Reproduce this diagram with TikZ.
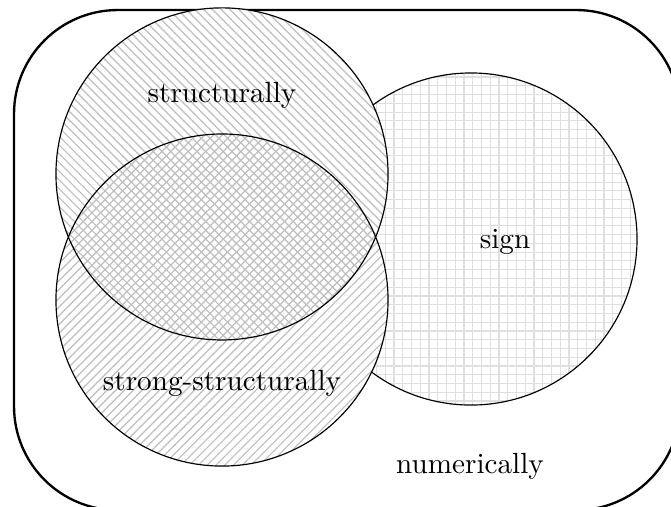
\documentclass[tikz,border=0pt]{standalone}
\usetikzlibrary{patterns}

\begin{document}
\begin{tikzpicture}

    % 1. Mittelpunkte der Kreise (Radius jeweils 2cm)
    \coordinate (S) at (2.674,4.0);
    \coordinate (T) at (2.674,2.481);
    \coordinate (G) at (5.673,3.216);

    % Rahmen des Bildes
    \useasboundingbox (0,0) rectangle (8.082,6.095);

    % 2. Menge aller Systeme (abgerundetes Rechteck)
    \draw[thick, rounded corners=1.25cm] (0.169,-0.05) rectangle (8.19,5.974);

    % 3. Kreis "sign" mit Gitter
    \draw[pattern=grid, pattern color=gray!25] (G) circle (2);

    % 4. Die beiden strukturellen Kreise
    % zuerst weiss unterlegen, dann schraffieren
    \fill[white] (S) circle (2);
    \fill[white] (T) circle (2);
    \fill[pattern=north west lines, pattern color=gray!50] (S) circle (2);
    \fill[pattern=north east lines, pattern color=gray!50] (T) circle (2);
    \draw (S) circle (2);
    \draw (T) circle (2);

    % 5. Beschriftungen
    \node (struct) at (2.674,4.95) {structurally};
    \node (strong) at (2.674,1.48) {strong-structurally};
    \node (sign) at (6.083,3.18) {sign};
    \node (num) at (5.661,0.48) {numerically};

\end{tikzpicture}
\end{document}
